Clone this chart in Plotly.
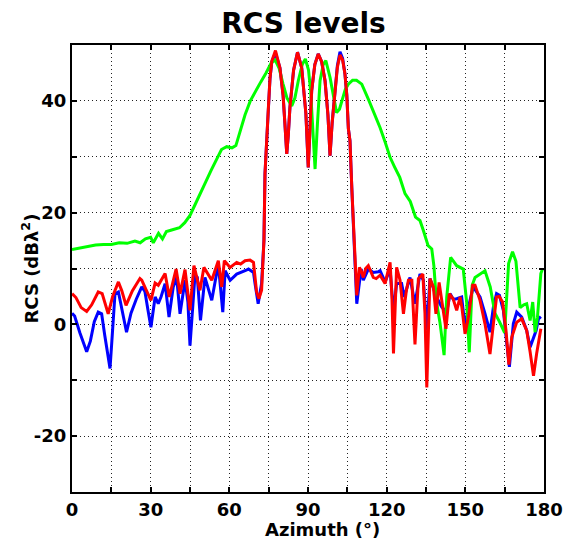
import plotly.graph_objects as go

# ---- data (azimuth in degrees, RCS in dB lambda^2) ----
az_blue = [0, 1, 3, 5.6, 7, 8.5, 10, 11.3, 12.5, 13.8, 14.5, 15.2, 16.4, 17.7, 19, 20.8, 22.5, 24.5,
           26.6, 27.8, 29, 30.1, 31.7, 32.9, 34, 35.5, 37, 38.6, 39.9, 41.2, 43.1, 44.2, 45, 46.9,
           47.8, 49, 50.7, 53.3, 55.8, 57.5, 58.4, 60.3, 62.8, 64.1, 66, 67.3, 69.2, 69.8, 71, 72.3,
           73.2, 73.6, 74.9, 75.5, 76.2, 77.6, 79.3, 80.5, 81.2, 81.9, 82.5, 83.1, 84.5, 86.0, 87.6,
           89.2, 90.1, 90.8, 91.4, 92.6, 93.9, 95.2, 96.5, 97.6, 98.4, 99.2, 100.3, 101.2, 102.2,
           103.2, 104.1, 104.8, 105.4, 106, 106.7, 107.3, 107.9, 108.6, 109.6, 110.3, 111.1, 113,
           114.9, 116.8, 117.5, 119.4, 121.3, 122.6, 123.8, 125.7, 126.7, 128.9, 130.8, 132.7, 134,
           135.3, 136.5, 139, 141, 142.9, 144.2, 145.4, 146.7, 148.6, 149.9, 151.2, 153, 155.6,
           157.5, 159.4, 160.7, 161.9, 163, 164.5, 165.8, 166.8, 168.3, 169.6, 171.5, 173.4, 174.7,
           176, 177, 177.9, 178.8]
rcs_blue = [2.0, 1.5, -1.5, -4.9, -3.0, 0.5, 2.2, 1.9, -2.0, -6.0, -7.9, -3.0, 5.5, 5.8, 3.0, -1.4, 2.0, 4.5,
            6.7, 5.9, 2.5, -0.5, 4.9, 3.7, 5.0, 7.3, 1.3, 6.7, 8.4, 1.9, 7.9, 4.0, -3.8, 8.8,
            8.4, 0.7, 8.4, 4.3, 10.8, 2.2, 9.6, 7.9, 9.0, 9.2, 9.6, 9.9, 9.3, 7.3, 3.7, 7.3,
            15.0, 27.0, 38.8, 44.0, 47.0, 48.6, 45.9, 41.0, 35.9, 30.5, 34.0, 38.8, 45.5, 48.7, 45.9,
            37.7, 28.1, 35.0, 41.8, 46.5, 48.4, 47.0, 43.6, 37.5, 30.2, 36.0, 41.8, 46.3, 48.8,
            47.6, 44.8, 41.0, 35.0, 32.9, 24.5, 18.0, 10.0, 3.7, 7.5, 9.9, 7.9, 9.9,
            9.3, 9.4, 9.6, 7.6, 9.9, 2.2, 7.3, 7.3, 4.9, 8.4, 3.7, 9.0, 7.9,
            -1.1, 8.2, 4.9, 3.1, 2.2, 5.5, 4.5, 4.6, 4.9, -0.5, 3.1, 6.7, 4.9,
            1.9, -1.4, 3.1, 5.5, 5.2, 2.5, -3.4, -7.6, 0.1, 2.2, 1.3, -1.1, -4.1,
            -2.3, -1.1, 1.0, 1.4]

az_red = [0, 1.5, 3.5, 5.6, 7.5, 10, 11.5, 13.8, 15.5, 17.7, 19, 20.6, 23, 25.9, 26.6, 28.5, 30.1, 31.7,
          32.9, 35.5, 37.1, 39.7, 41.2, 43.1, 45, 46.5, 48.8, 50.3, 53.3, 55.8, 57.1, 58.1, 60.3, 62.8,
          64.3, 66, 67.9, 69.2, 70.4, 71.3, 72.3,
          73.2, 73.6, 74.9, 75.5, 76.2, 77.6, 79.3, 80.5, 81.2, 81.9, 82.5, 83.1, 84.5, 86.0, 87.6,
          89.2, 90.1, 90.8, 91.4, 92.6, 93.9, 95.2, 96.5, 97.6, 98.4, 99.2, 100.3, 101.2, 102.2,
          103.2, 104.1, 104.8, 105.4, 106, 106.7, 107.3, 107.9, 108.6, 109.6, 110.3, 111.1, 112, 113,
          114.9, 116, 117.5, 119.4, 121.3, 122, 122.6, 123.8, 125.1, 126.4, 127.5, 128.3, 129.6,
          130.8, 132.1, 133.8, 134.6, 135.3, 136.5, 137.8, 138.8, 140, 141.4, 142.6, 143.9, 145.4,
          146.7, 148, 148.7, 149.9, 151.2, 152.8, 153.7, 155.6, 157.5, 159.4, 160.7, 161.9, 162.9,
          164.2, 165.5, 166.6, 167.7, 169.6, 171.5, 173.4, 174.7, 176, 177.2, 178.8]
rcs_red = [5.5, 4.8, 3.0, 2.3, 3.5, 5.8, 5.5, 1.9, 5.0, 7.6, 6.0, 3.4, 6.0, 8.2, 7.9, 6.0, 4.3, 7.4,
           7.0, 9.1, 4.9, 9.9, 5.5, 9.8, 2.5, 10.5, 6.1, 10.2, 7.9, 11.4, 6.7, 11.4, 10.2, 11.1,
           10.8, 11.4, 11.5, 11.1, 5.8, 4.6, 6.1,
           15.0, 27.0, 38.8, 44.0, 47.1, 49.0, 45.9, 41.0, 35.9, 30.5, 34.0, 38.8, 45.5, 48.7, 45.9,
           37.7, 28.1, 35.0, 41.8, 46.5, 48.4, 47.0, 43.6, 37.5, 30.2, 36.0, 41.8, 46.0, 48.2,
           47.3, 44.8, 41.0, 35.0, 32.9, 24.5, 18.0, 10.2, 5.2, 10.2, 9.6, 8.4, 10.0, 10.5,
           8.4, 8.2, 8.8, 7.3, 11.1, 5.0, -5.2, 10.2, 7.9, 1.9, 6.0, 7.9, 7.9,
           -3.6, 8.2, 9.0, 2.0, -11.3, 8.2, 6.7, 1.9, 7.5, 3.4, -0.8, 5.5, 4.5,
           2.5, 4.9, 3.0, -1.7, 1.3, 7.0, 7.0, 4.3, 0.1, -5.3, 0.1, 4.9, 5.0,
           4.0, -1.1, -7.2, -2.3, 0.4, 1.0, -1.1, -4.9, -9.2, -5.2, -0.8]

az_green = [0, 3, 6, 9, 12, 15, 18, 21, 24, 26, 28, 30, 31, 33, 34.5, 36, 38, 41, 43, 45, 47, 49, 51,
            53, 55, 57, 59, 61, 62.5, 64, 66, 68, 70, 72, 74, 76, 77.5, 79, 80.5, 82, 83.8, 85, 86.3,
            87.8, 89, 90.2, 91, 92, 92.7, 93.6, 94.6, 95.8, 96.8, 98.4, 100, 100.9, 102, 102.9,
            104.2, 105.4, 107, 108.5, 110.5, 113, 115, 117.5, 119.5, 121.3, 123, 125, 127, 129,
            131, 132.7, 134, 135.8, 137.2, 138, 139, 140.3, 141.9, 142.9, 144.4, 146.7, 149.2,
            150.5, 151.5, 152.6, 153.7, 155.5, 157.5, 159.5, 161.3, 163, 165, 166.5, 168, 169.3,
            170.9, 172.3, 173.4, 174.7, 175.7, 176.6, 177.5, 178.8, 179.5]
rcs_green = [13.4, 13.7, 14.0, 14.2, 14.3, 14.3, 14.6, 14.5, 14.9, 14.6, 15.3, 15.6, 14.6, 16.3, 15.3,
             16.6, 16.9, 17.3, 18.2, 19.5, 21.5, 23.4, 25.5, 27.5, 29.5, 31.3, 31.8, 31.6, 32.0,
             34.5, 37.5, 40.0, 41.8, 43.4, 45.0, 46.8, 47.3, 45.8, 43.0, 40.5, 39.1, 40.5, 43.6,
             46.5, 47.5, 45.5, 41.8, 33.0, 27.8, 35.9, 43.6, 46.5, 47.2, 44.2, 40.0, 37.9, 38.5,
             40.0, 42.0, 43.0, 43.7, 43.7, 43.0, 40.3, 38.0, 35.2, 32.5, 29.9, 28.2, 26.3, 23.4,
             22.0, 19.2, 18.6, 16.8, 14.1, 13.5, 10.5, 4.0, 0.4, -5.5, 4.9, 12.0, 10.5, 9.9,
             4.0, -5.0, 7.0, 8.4, 9.0, 9.6, 6.7, 2.0, 0.5, -1.5, 10.9, 13.0, 11.3,
             3.0, 3.5, 3.7, 0.7, 4.0, -1.4, 1.2, 9.1, 10.0]

x_tickvals = [0, 30, 60, 90, 120, 150, 180]
x_ticktext = ["0", "30", "60", "90", "120", "150", "180"]
y_tickvals = [-20, 0, 20, 40]
y_ticktext = ["-20", "0", "20", "40"]

FONT = "DejaVu Sans"
TEXT_W = dict(family=FONT, color="black", weight="bold")

fig = go.Figure()
fig.add_trace(go.Scatter(x=az_blue, y=rcs_blue, mode="lines",
                         line=dict(color="#0000ff", width=3), showlegend=False))
fig.add_trace(go.Scatter(x=az_green, y=rcs_green, mode="lines",
                         line=dict(color="#00ff00", width=3), showlegend=False))
fig.add_trace(go.Scatter(x=az_red, y=rcs_red, mode="lines",
                         line=dict(color="#ff0000", width=3), showlegend=False))

grid_style = dict(showgrid=True, gridcolor="#222222", gridwidth=1, griddash="1px,3px")

axis_common = dict(
    showline=True, linecolor="black", linewidth=2, mirror="ticks",
    ticks="inside", ticklen=5, tickwidth=1.5, tickcolor="black",
    zeroline=False, tickmode="array", automargin=False,
    tickfont=dict(size=18, **TEXT_W), **grid_style,
)

fig.update_xaxes(range=[0, 180], tickvals=x_tickvals, ticktext=x_ticktext,
                 minor=dict(tick0=0, dtick=15, ticks="inside", ticklen=5, tickwidth=1.5,
                            tickcolor="black", **grid_style),
                 **axis_common)
fig.update_yaxes(range=[-30, 50], tickvals=y_tickvals, ticktext=y_ticktext,
                 minor=dict(tick0=-30, dtick=10, ticks="inside", ticklen=5, tickwidth=1.5,
                            tickcolor="black", **grid_style),
                 **axis_common)

fig.update_layout(
    width=563, height=543,
    margin=dict(l=72, r=19, t=45, b=51),
    paper_bgcolor="white", plot_bgcolor="white",
    title=dict(text="RCS levels", x=0.539, xanchor="center", y=0.958, yanchor="middle",
               font=dict(size=28, **TEXT_W)),
    annotations=[
        dict(text="Azimuth (°)", xref="paper", yref="paper", x=0.53, y=-0.083,
             xanchor="center", yanchor="middle", showarrow=False,
             font=dict(size=18, **TEXT_W)),
        dict(text="RCS (dBλ<sup>2</sup>)", xref="paper", yref="paper", x=-0.089, y=0.5,
             xanchor="center", yanchor="middle", textangle=-90, showarrow=False,
             font=dict(size=18, **TEXT_W)),
    ],
)

fig.write_html("out.html", config={"displayModeBar": False},
               post_script="document.body.style.margin='0';document.body.style.overflow='hidden';")
